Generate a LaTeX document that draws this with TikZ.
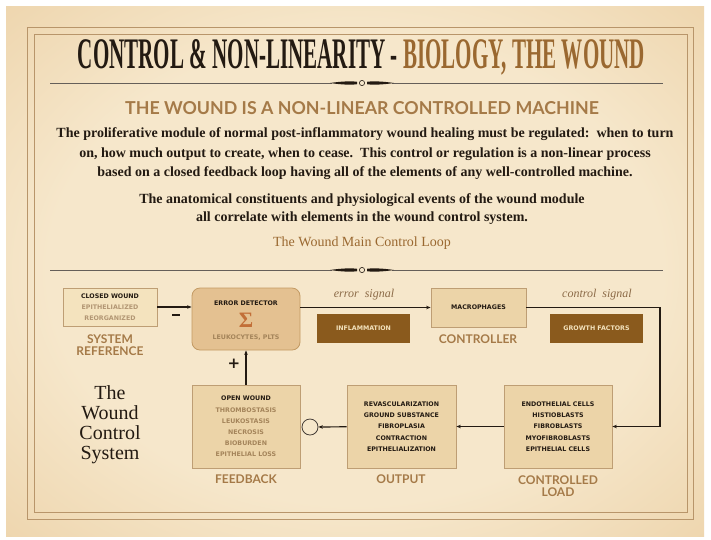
\documentclass[tikz,border=0pt]{standalone}
\usepackage{graphicx}
\usepackage{fontspec}
\setmainfont{Liberation Serif}
\newfontfamily\boxfont{DejaVu Sans}
\newfontfamily\labfont{Lato}
\usetikzlibrary{calc}
\usetikzlibrary{positioning}
\usetikzlibrary{arrows.meta}

\definecolor{parchin}{HTML}{F6E7CB}
\definecolor{parchmid}{HTML}{EBCFA3}
\definecolor{parchout}{HTML}{D6AA70}
\definecolor{framecol}{HTML}{B8956A}
\definecolor{inkcol}{HTML}{231A12}
\definecolor{titlebrown}{HTML}{9A6830}
\definecolor{labbrown}{HTML}{A57A48}
\definecolor{softbrown}{HTML}{A4845A}
\definecolor{sigbrown}{HTML}{8C6B48}
\definecolor{boxfill}{HTML}{ECD4A8}
\definecolor{boxline}{HTML}{BE9E74}
\definecolor{reffill}{HTML}{F4E3BE}
\definecolor{detfill}{HTML}{E4C191}
\definecolor{detline}{HTML}{C39A63}
\definecolor{darkfill}{HTML}{8A5A1D}
\definecolor{sigmacol}{HTML}{C26F38}

\pgfdeclareradialshading{parchment}{\pgfpoint{0bp}{0bp}}{%
  color(0bp)=(parchin); color(22bp)=(parchin); color(41bp)=(parchmid);
  color(54bp)=(parchout); color(72bp)=(parchout)}

\tikzset{
  plainbox/.style={draw=boxline, fill=boxfill, line width=0.8pt, inner sep=0pt,
    align=center, font=\boxfont\bfseries\fontsize{6.3}{11.2}\selectfont, text=inkcol},
  refbox/.style={plainbox, fill=reffill},
  detbox/.style={plainbox, draw=detline, fill=detfill, rounded corners=8pt},
  darkbox/.style={fill=darkfill, inner sep=0pt, text=reffill,
    font=\boxfont\bfseries\fontsize{6.3}{8}\selectfont},
  blocklabel/.style={text=labbrown, align=center,
    font=\labfont\bfseries\fontsize{12}{12.5}\selectfont},
  signal/.style={text=sigbrown, font=\itshape\fontsize{12}{14}\selectfont},
  wire/.style={draw=inkcol, line width=1.2pt, -{Stealth[length=4.5pt,width=3.5pt]}},
  ornament/.pic={
    \draw[inkcol!70, line width=0.6pt] (-312,0) -- (-30,0) (30,0) -- (301,0);
    \fill[inkcol] (-32,0) .. controls (-20,-1.8) and (-10,-2) .. (-5,-1.2)
      -- (-5,1.2) .. controls (-10,2) and (-20,1.8) .. (-32,0);
    \fill[inkcol] (32,0) .. controls (20,-1.8) and (10,-2) .. (5,-1.2)
      -- (5,1.2) .. controls (10,2) and (20,1.8) .. (32,0);
    \draw[inkcol, fill=parchin, line width=0.6pt] (0,0) circle (2.6);
  }
}

\begin{document}
\begin{tikzpicture}[x=1pt, y=-1pt]
  \useasboundingbox (0,0) rectangle (711,539);
  % paper and frame
  \fill[white] (0,0) rectangle (711,539);
  \shade[shading=parchment] (6,6) rectangle (704,536);
  \draw[framecol, line width=0.8pt] (27,27) rectangle (693,519);
  \draw[framecol, line width=0.8pt] (34,34) rectangle (687,512);

  % headings
  \node (title) at (361.5,57) {\resizebox{567pt}{29pt}{\bfseries\color{inkcol}CONTROL \& NON-LINEARITY - \textcolor{titlebrown}{BIOLOGY, THE WOUND}}};
  \pic at (362,83) {ornament};
  \node[text=labbrown, font=\labfont\bfseries\fontsize{17.8}{18}\selectfont] (subtitle) at (362,108)
    {THE WOUND IS A NON-LINEAR CONTROLLED MACHINE};
  \node[text=inkcol, align=center, font=\bfseries\fontsize{14}{19.5}\selectfont] (para) at (365,154)
    {The proliferative module of normal post-inflammatory wound healing must be regulated:\ \ when to turn\\
     on, how much output to create, when to cease.\ \ This control or regulation is a non-linear process\\
     based on a closed feedback loop having all of the elements of any well-controlled machine.};
  \node[text=inkcol, align=center, font=\bfseries\fontsize{14}{18.5}\selectfont] (parb) at (362,209)
    {The anatomical constituents and physiological events of the wound module\\
     all correlate with elements in the wound control system.};
  \node[text=titlebrown, font=\fontsize{14}{16}\selectfont] (looptitle) at (362,243) {The Wound Main Control Loop};
  \pic at (362,270) {ornament};

  % control loop blocks
  \node[refbox, minimum width=94pt, minimum height=38pt] (cw) at (110,307)
    {CLOSED WOUND\\\textcolor{softbrown!85}{EPITHELIALIZED}\\\textcolor{softbrown!85}{REORGANIZED}};
  \node[detbox, minimum width=108pt, minimum height=62pt] (det) at (246,319) {};
  \node[text=inkcol, font=\boxfont\bfseries\fontsize{6.3}{8}\selectfont] (dettxt) at (246,303) {ERROR DETECTOR};
  \node[text=sigmacol, font=\bfseries\fontsize{22}{22}\selectfont] (sigma) at (246,320) {Σ};
  \node[text=softbrown, font=\boxfont\bfseries\fontsize{6.3}{8}\selectfont] (leuko) at (246,338) {LEUKOCYTES, PLTS};
  \node[plainbox, minimum width=95pt, minimum height=39pt] (mac) at (478.5,307.5) {MACROPHAGES};
  \node[darkbox, minimum width=93pt, minimum height=29pt] (infl) at (363.5,328.5) {INFLAMMATION};
  \node[darkbox, minimum width=93pt, minimum height=29pt] (grow) at (596.5,328.5) {GROWTH FACTORS};
  \node[plainbox, minimum width=108pt, minimum height=83pt] (load) at (558,426.5)
    {ENDOTHELIAL CELLS\\HISTIOBLASTS\\FIBROBLASTS\\MYOFIBROBLASTS\\EPITHELIAL CELLS};
  \node[plainbox, minimum width=109pt, minimum height=83pt] (out) at (401.5,426.5)
    {REVASCULARIZATION\\GROUND SUBSTANCE\\FIBROPLASIA\\CONTRACTION\\EPITHELIALIZATION};
  \node[plainbox, minimum width=108pt, minimum height=83pt, text=softbrown] (fb) at (246,426.5)
    {\textcolor{inkcol}{OPEN WOUND}\\THROMBOSTASIS\\LEUKOSTASIS\\NECROSIS\\BIOBURDEN\\EPITHELIAL LOSS};
  \node[circle, draw=inkcol!85, line width=0.8pt, minimum size=16pt, inner sep=0pt] (sum) at (310,427) {};

  % block names
  \node[blocklabel] (refname) at (110,345) {SYSTEM\\[-1pt]REFERENCE};
  \node[blocklabel] (macname) at (478,339) {CONTROLLER};
  \node[blocklabel] (outname) at (401,479) {OUTPUT};
  \node[blocklabel] (fbname) at (246,479) {FEEDBACK};
  \node[blocklabel] (loadname) at (558,486) {CONTROLLED\\[-1pt]LOAD};
  \node[text=inkcol, align=center, font=\fontsize{20}{20}\selectfont] (system) at (110,425)
    {The\\Wound\\Control\\System};

  % signals
  \coordinate (turn) at (660,307.5);
  \draw[wire] (cw.east) -- (cw.east -| det.west);
  \draw[wire] (mac.west -| det.east) -- (mac.west);
  \draw[wire] (mac.east) -- (turn) |- (load.east);
  \draw[wire] (load) -- (out);
  \draw[wire] (out) -- (sum);
  \draw[wire] (fb) -- (det);
  \node[signal] (errlab) at (364,295) {error\ \ signal};
  \node[signal] (ctrllab) at (597,295) {control\ \ signal};
  \node[text=inkcol, inner sep=0pt] (minus) at (176,315) {\rule{8pt}{2.6pt}};
  \node[text=inkcol, font=\boxfont\bfseries\fontsize{15}{15}\selectfont] (plus) at (234,364) {+};
\end{tikzpicture}
\end{document}
